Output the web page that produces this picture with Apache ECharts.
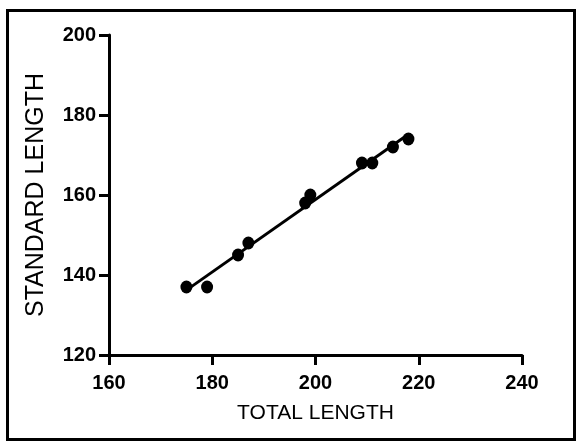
<!DOCTYPE html>
<html>
<head>
<meta charset="utf-8">
<script src="https://cdn.jsdelivr.net/npm/echarts@6/dist/echarts.min.js"></script>
<style>
  html, body { margin: 0; padding: 0; background: #fff; }
  #wrap { position: relative; width: 581px; height: 444px; }
  #chart { width: 581px; height: 444px; }
  #frame {
    position: absolute; left: 6px; top: 9px; width: 564px; height: 426px;
    border: 3px solid #000; pointer-events: none;
  }
</style>
</head>
<body>
<div id="wrap">
  <div id="chart"></div>
  <div id="frame"></div>
</div>
<script>
// Fish measurements: total length vs standard length
const totalLength    = [175, 179, 185, 187, 198, 199, 209, 211, 215, 218];
const standardLength = [137, 137, 145, 148, 158, 160, 168, 168, 172, 174];

const xTicks = [160, 180, 200, 220, 240];
const yTicks = [120, 140, 160, 180, 200];

const points = totalLength.map((x, i) => [x, standardLength[i]]);

// Least-squares fit line over the measured range
function fitLine(xs, ys) {
  const n = xs.length;
  const mx = xs.reduce((a, b) => a + b, 0) / n;
  const my = ys.reduce((a, b) => a + b, 0) / n;
  let sxy = 0, sxx = 0;
  for (let i = 0; i < n; i++) {
    sxy += (xs[i] - mx) * (ys[i] - my);
    sxx += (xs[i] - mx) * (xs[i] - mx);
  }
  const slope = sxy / sxx;
  const icpt = my - slope * mx;
  const x0 = Math.min(...xs), x1 = Math.max(...xs);
  return [[x0, icpt + slope * x0], [x1, icpt + slope * x1]];
}
const fit = fitLine(totalLength, standardLength);

const FONT = '"Liberation Sans", Arial, sans-serif';
const chart = echarts.init(document.getElementById('chart'));

chart.setOption({
  animation: false,
  grid: { left: 109, right: 59, top: 35, bottom: 89 },
  xAxis: {
    type: 'value',
    min: xTicks[0], max: xTicks[xTicks.length - 1], interval: 20,
    splitLine: { show: false },
    axisLine: { show: true, lineStyle: { color: '#000', width: 3 } },
    axisTick: { show: true, length: 10, lineStyle: { color: '#000', width: 3 } },
    axisLabel: { color: '#000', fontSize: 20, fontWeight: 'bold', fontFamily: FONT, margin: 18 },
    name: 'TOTAL LENGTH',
    nameLocation: 'middle',
    nameGap: 48,
    nameTextStyle: { color: '#000', fontSize: 21, fontFamily: FONT }
  },
  yAxis: {
    type: 'value',
    min: yTicks[0], max: yTicks[yTicks.length - 1], interval: 20,
    splitLine: { show: false },
    axisLine: { show: true, lineStyle: { color: '#000', width: 3 } },
    axisTick: { show: true, length: 10, lineStyle: { color: '#000', width: 3 } },
    axisLabel: { color: '#000', fontSize: 20, fontWeight: 'bold', fontFamily: FONT, margin: 13 },
    name: 'STANDARD LENGTH',
    nameLocation: 'middle',
    nameGap: 60,
    nameTextStyle: { color: '#000', fontSize: 25, fontFamily: FONT }
  },
  series: [
    {
      type: 'scatter',
      data: points,
      symbol: 'circle',
      symbolSize: [12, 13],
      itemStyle: { color: '#000', opacity: 1 },
      markLine: {
        silent: true,
        symbol: ['none', 'none'],
        label: { show: false },
        lineStyle: { color: '#000', width: 3, type: 'solid' },
        data: [[{ coord: fit[0] }, { coord: fit[1] }]]
      }
    }
  ]
});
</script>
</body>
</html>
